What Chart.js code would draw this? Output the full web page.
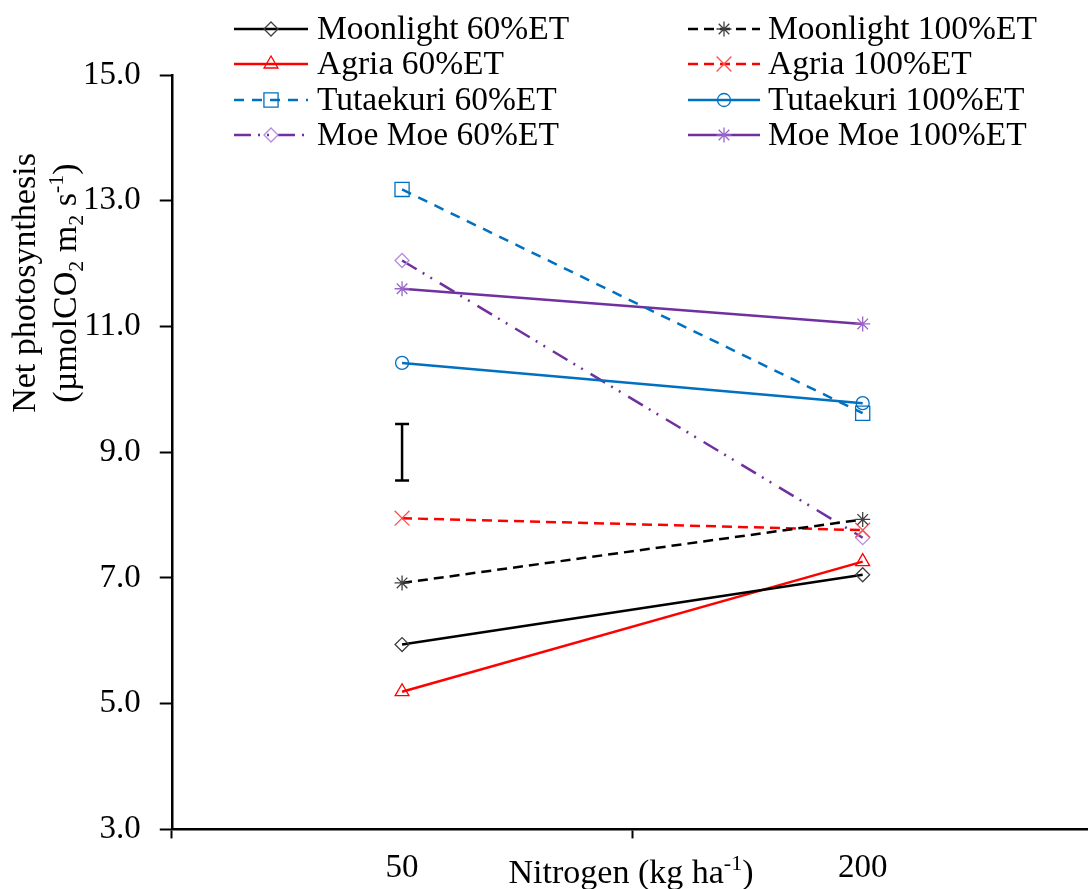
<!DOCTYPE html>
<html>
<head>
<meta charset="utf-8">
<script src="https://cdn.jsdelivr.net/npm/chart.js@4.4.1/dist/chart.umd.min.js"></script>
<style>
  html, body { margin: 0; padding: 0; background: #fff; overflow: hidden; }
</style>
</head>
<body>
<canvas id="photoChart" width="1093" height="889"></canvas>
<script>
// nitrogen rates on the x axis
const nitrogenLevels = ['50', '200']

// net photosynthesis values
const moonlight60 = [5.94, 7.05]
const moonlight100 = [6.92, 7.93]
const agria60 = [5.19, 7.26]
const agria100 = [7.95, 7.76]
const tutaekuri60 = [13.18, 9.62]
const tutaekuri100 = [10.42, 9.78]
const moeMoe60 = [12.05, 7.64]
const moeMoe100 = [11.60, 11.04]

// LSD bar drawn at the 50 kg position
const lsdLevel = '50'
const lsdRange = [9.45, 8.55]

// y axis
const yMin = 3
const yMax = 15
const yStep = 2

const FONT = '"Liberation Serif", "Times New Roman", serif'
const BLACK = '#000000'
const RED = '#ff0000'
const BLUE = '#0070c0'
const PURPLE = '#7030a0'

function series(label, data, color, markerColor, dash, style, radius) {
  return {
    label: label,
    data: data,
    borderColor: color,
    borderWidth: 2.5,
    borderDash: dash,
    pointStyle: style,
    pointRadius: radius,
    pointBorderColor: markerColor,
    pointBackgroundColor: 'rgba(0,0,0,0)',
    pointBorderWidth: 1.3,
    tension: 0
  }
}

const lineSets = [
  series('Moonlight 60%ET', moonlight60, BLACK, '#404040', [], 'rectRot', 7),
  series('Moonlight 100%ET', moonlight100, BLACK, '#404040', [10, 6], 'star', 7.5),
  series('Agria 60%ET', agria60, RED, RED, [], 'triangle', 8),
  series('Agria 100%ET', agria100, RED, '#ff5050', [10, 6], 'crossRot', 10.5),
  series('Tutaekuri 60%ET', tutaekuri60, BLUE, BLUE, [10, 8], 'rect', 10),
  series('Tutaekuri 100%ET', tutaekuri100, BLUE, BLUE, [], 'circle', 6.5),
  series('Moe Moe 60%ET', moeMoe60, PURPLE, '#b48ce0', [17, 7, 2, 7, 2, 9], 'rectRot', 7),
  series('Moe Moe 100%ET', moeMoe100, PURPLE, '#9966cc', [], 'star', 7.5)
]

const lsdSet = {
  label: 'LSD',
  data: lsdRange.map(function (v) { return { x: lsdLevel, y: v } }),
  borderColor: BLACK,
  borderWidth: 2.5,
  pointStyle: 'line',
  pointRadius: 7,
  pointBorderColor: BLACK,
  pointBorderWidth: 2.5
}

// text with sub / superscripts
function richText(ctx, parts, cx, baseY) {
  let total = 0
  parts.forEach(function (p) {
    ctx.font = (p.small ? '22px ' : '34px ') + FONT
    p.w = ctx.measureText(p.t).width
    total += p.w
  })
  let x = cx - total / 2
  parts.forEach(function (p) {
    ctx.font = (p.small ? '22px ' : '34px ') + FONT
    ctx.fillText(p.t, x, baseY + (p.dy || 0))
    x += p.w
  })
}

const titlesPlugin = {
  id: 'titles',
  afterDraw(chart) {
    const ctx = chart.ctx
    ctx.save()
    ctx.fillStyle = BLACK
    ctx.textAlign = 'left'
    ctx.textBaseline = 'alphabetic'
    // x title
    richText(ctx, [
      { t: 'Nitrogen (kg ha' },
      { t: '-1', small: true, dy: -13 },
      { t: ')' }
    ], 631, 883)
    // y title, two lines
    ctx.translate(0, 283)
    ctx.rotate(-Math.PI / 2)
    richText(ctx, [{ t: 'Net photosynthesis' }], 0, 35)
    richText(ctx, [
      { t: '(\u00b5molCO' },
      { t: '2', small: true, dy: 7 },
      { t: ' m' },
      { t: '2', small: true, dy: 7 },
      { t: ' s' },
      { t: '-1', small: true, dy: -13 },
      { t: ')' }
    ], 0, 76)
    ctx.restore()
  }
}

const legendPlugin = {
  id: 'twoColLegend',
  afterDraw(chart) {
    const ctx = chart.ctx
    const rows = [29, 64, 100, 135]
    const cols = [
      { x0: 234, x1: 308, tx: 317 },
      { x0: 688, x1: 760, tx: 768 }
    ]
    lineSets.forEach(function (ds, i) {
      const c = cols[i % 2]
      const y = rows[Math.floor(i / 2)]
      ctx.save()
      ctx.strokeStyle = ds.borderColor
      ctx.lineWidth = ds.borderWidth
      ctx.setLineDash(ds.borderDash)
      ctx.beginPath()
      ctx.moveTo(c.x0, y)
      ctx.lineTo(c.x1, y)
      ctx.stroke()
      ctx.setLineDash([])
      ctx.strokeStyle = ds.pointBorderColor
      ctx.fillStyle = 'rgba(0,0,0,0)'
      ctx.lineWidth = ds.pointBorderWidth
      Chart.helpers.drawPoint(ctx, {
        pointStyle: ds.pointStyle,
        radius: ds.pointRadius,
        borderWidth: ds.pointBorderWidth,
        rotation: 0
      }, (c.x0 + c.x1) / 2, y)
      ctx.fillStyle = BLACK
      ctx.font = '33.5px ' + FONT
      ctx.textAlign = 'left'
      ctx.textBaseline = 'middle'
      ctx.fillText(ds.label, c.tx, y + 1)
      ctx.restore()
    })
  }
}

const ctx = document.getElementById('photoChart')
new Chart(ctx, {
  type: 'line',
  data: {
    labels: nitrogenLevels,
    datasets: lineSets.concat([lsdSet])
  },
  options: {
    responsive: false,
    animation: false,
    layout: {
      autoPadding: false,
      padding: { left: 64, top: 75, right: 0, bottom: -9 }
    },
    plugins: {
      legend: { display: false },
      tooltip: { enabled: false }
    },
    scales: {
      x: {
        type: 'category',
        offset: true,
        grid: {
          offset: true,
          drawOnChartArea: false,
          drawTicks: true,
          tickLength: 9,
          tickWidth: 2,
          tickColor: BLACK
        },
        border: { display: true, color: BLACK, width: 2.5 },
        ticks: {
          color: BLACK,
          padding: 10,
          font: { family: FONT, size: 33 }
        }
      },
      y: {
        min: yMin,
        max: yMax,
        grid: {
          drawOnChartArea: false,
          drawTicks: true,
          tickLength: 12,
          tickWidth: 2,
          tickColor: BLACK
        },
        border: { display: true, color: BLACK, width: 2.5 },
        ticks: {
          stepSize: yStep,
          color: BLACK,
          padding: 19,
          font: { family: FONT, size: 33 },
          callback: function (v) { return Number(v).toFixed(1) }
        }
      }
    }
  },
  plugins: [titlesPlugin, legendPlugin]
})
</script>
</body>
</html>
